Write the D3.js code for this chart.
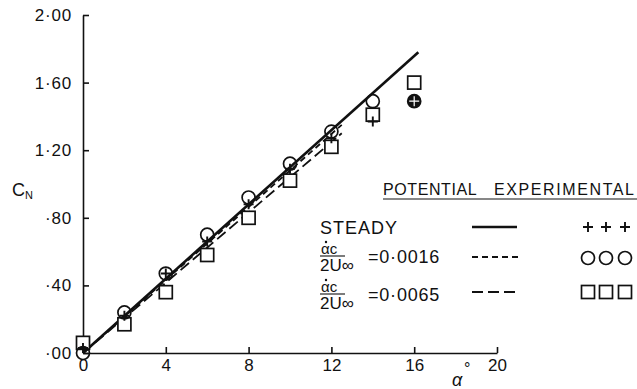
<!DOCTYPE html>
<html>
<head>
<meta charset="utf-8">
<script src="https://cdn.jsdelivr.net/npm/d3@7"></script>
<style>
  body { margin: 0; background: #fff; }
  svg { display: block; font-family: "Liberation Sans", "DejaVu Sans", sans-serif; }
</style>
</head>
<body>
<div id="chart"></div>
<script>
// incidence angle (deg)
const alpha = [0, 2, 4, 6, 8, 10, 12, 14, 16];
// experimental C_N
const steadyExp = [0.03, 0.22, 0.47, 0.66, 0.88, 1.09, 1.27, 1.37, 1.49];
const slowExp = [0.00, 0.24, 0.47, 0.70, 0.92, 1.12, 1.31, 1.49, 1.49];
const fastExp = [0.06, 0.17, 0.36, 0.58, 0.80, 1.02, 1.22, 1.41, 1.60];
// potential theory lines [alpha, C_N]
const steadyPot = [[0, 0], [16.2, 1.78]];
const slowPot = [[0, 0], [12.5, 1.35]];
const fastPot = [[0, 0], [12.5, 1.30]];

const xTicks = [0, 4, 8, 12, 16, 20];
const yTicks = [0, 0.4, 0.8, 1.2, 1.6, 2.0];

const W = 637, H = 389;
const svg = d3.select("#chart").append("svg")
    .attr("width", W)
    .attr("height", H);

const x = d3.scaleLinear().domain([0, 20]).range([83, 497]);
const y = d3.scaleLinear().domain([0, 2]).range([353, 15]);

const fmtY = d => d >= 1 ? d.toFixed(2).replace(".", "·") : "·" + d.toFixed(2).slice(2);

// Y axis
const gy = svg.append("g")
    .attr("transform", `translate(${x(0)},0)`)
    .call(d3.axisLeft(y).tickValues(yTicks).tickFormat(fmtY).tickSize(-6).tickSizeOuter(0).tickPadding(11));
gy.selectAll("text").attr("font-size", 17).attr("letter-spacing", 0.8).attr("fill", "#111").attr("font-family", "Liberation Sans");

// X axis
const gx = svg.append("g")
    .attr("transform", `translate(0,${y(0)})`)
    .call(d3.axisBottom(x).tickValues(xTicks).tickFormat(d3.format("d")).tickSize(-6).tickSizeOuter(0).tickPadding(6));
gx.selectAll("text").attr("font-size", 17).attr("fill", "#111").attr("font-family", "Liberation Sans");

svg.selectAll(".domain, .tick line").attr("stroke", "#111").attr("stroke-width", 1.6);

// axis titles
const cn = svg.append("text").attr("x", 12).attr("y", 196).attr("font-size", 18).attr("fill", "#111");
cn.append("tspan").text("C");
cn.append("tspan").attr("font-size", 11).attr("dy", 3).text("N");

svg.append("text").attr("x", 452).attr("y", 386).attr("font-size", 18).attr("font-style", "italic").attr("fill", "#111").text("α");
svg.append("text").attr("x", 464).attr("y", 374).attr("font-size", 16).attr("fill", "#111").text("°");

// theory lines
const line = d3.line().x(d => x(d[0])).y(d => y(d[1]));
svg.append("path").attr("d", line(steadyPot)).attr("fill", "none").attr("stroke", "#111").attr("stroke-width", 2.6);
svg.append("path").attr("d", line(slowPot)).attr("fill", "none").attr("stroke", "#111").attr("stroke-width", 1.8).attr("stroke-dasharray", "6,4");
svg.append("path").attr("d", line(fastPot)).attr("fill", "none").attr("stroke", "#111").attr("stroke-width", 1.8).attr("stroke-dasharray", "11,5");

// markers
const drawSquares = (g, pts) => g.selectAll("rect").data(pts).enter().append("rect")
    .attr("x", d => d[0] - 6.5).attr("y", d => d[1] - 6.5)
    .attr("width", 13).attr("height", 13)
    .attr("fill", "#fff").attr("stroke", "#111").attr("stroke-width", 1.7);
const drawCircles = (g, pts) => g.selectAll("circle").data(pts).enter().append("circle")
    .attr("cx", d => d[0]).attr("cy", d => d[1]).attr("r", 6.5)
    .attr("fill", "none").attr("stroke", "#111").attr("stroke-width", 1.7);
const plusPath = (cx, cy, s) => `M${cx - s},${cy}H${cx + s}M${cx},${cy - s}V${cy + s}`;
const drawPluses = (g, pts) => g.selectAll("path").data(pts).enter().append("path")
    .attr("d", d => plusPath(d[0], d[1], 5))
    .attr("stroke", "#111").attr("stroke-width", 1.9).attr("fill", "none");

const sq = svg.append("g");
drawSquares(sq, alpha.map((a, i) => [x(a), y(fastExp[i])]));
const ci = svg.append("g");
drawCircles(ci, alpha.map((a, i) => [x(a), y(slowExp[i])]));
// last circle is heavily inked in the original
ci.selectAll("circle").filter((d, i) => i === alpha.length - 1).attr("fill", "#111");
const pl = svg.append("g");
drawPluses(pl, alpha.map((a, i) => [x(a), y(steadyExp[i])]));
pl.selectAll("path").filter((d, i) => i === alpha.length - 1).attr("stroke", "#fff").attr("stroke-width", 1.2);

// legend
const lg = svg.append("g").attr("fill", "#111");
lg.append("text").attr("x", 383).attr("y", 195).attr("font-size", 16).attr("letter-spacing", 0.6).text("POTENTIAL");
lg.append("text").attr("x", 494).attr("y", 195).attr("font-size", 16).attr("letter-spacing", 1.6).text("EXPERIMENTAL");
lg.append("line").attr("x1", 383).attr("x2", 637).attr("y1", 199).attr("y2", 199).attr("stroke", "#111").attr("stroke-width", 1.2);

lg.append("text").attr("x", 320).attr("y", 234).attr("font-size", 18).attr("letter-spacing", 1).text("STEADY");

const frac = (x0, yBar, val) => {
  lg.append("text").attr("x", x0 + 1).attr("y", yBar - 2).attr("font-size", 15).text("αc");
  // time-derivative dot over alpha
  lg.append("circle").attr("cx", x0 + 6).attr("cy", yBar - 14).attr("r", 1.2).attr("fill", "#111");
  lg.append("line").attr("x1", x0).attr("x2", x0 + 25).attr("y1", yBar).attr("y2", yBar).attr("stroke", "#111").attr("stroke-width", 1.1);
  lg.append("text").attr("x", x0).attr("y", yBar + 15).attr("font-size", 17).text("2U∞");
  lg.append("text").attr("x", x0 + 48).attr("y", yBar + 7).attr("font-size", 18).attr("letter-spacing", 0.8).text(val);
};
frac(320, 256, "=0·0016");
frac(320, 294, "=0·0065");

lg.append("line").attr("x1", 472).attr("x2", 517).attr("y1", 227).attr("y2", 227).attr("stroke", "#111").attr("stroke-width", 2.6);
lg.append("line").attr("x1", 472).attr("x2", 518).attr("y1", 257).attr("y2", 257).attr("stroke", "#111").attr("stroke-width", 1.8).attr("stroke-dasharray", "6,4");
lg.append("line").attr("x1", 472).attr("x2", 516).attr("y1", 292).attr("y2", 292).attr("stroke", "#111").attr("stroke-width", 1.8).attr("stroke-dasharray", "11,5");

const legX = [588, 606, 625];
drawPluses(lg.append("g"), legX.map(v => [v, 227]));
drawCircles(lg.append("g"), legX.map(v => [v, 258]));
drawSquares(lg.append("g"), legX.map(v => [v, 292]));
</script>
</body>
</html>
